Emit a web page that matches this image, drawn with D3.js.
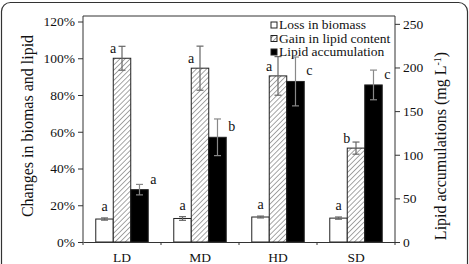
<!DOCTYPE html>
<head>
  <meta charset="utf-8">
  <script src="https://d3js.org/d3.v7.min.js"></script>
  <style>
    body { margin:0; background:#fff; }
    text { font-family: "Liberation Serif", "Times New Roman", serif; fill:#111; }
  </style>
</head>
<body>
<script>

/* Data */
/* ==== */

var categories = ['LD', 'MD', 'HD', 'SD'];

var lossBiomass = [12.5, 12.8, 13.6, 13.0];   // %
var lossErr     = [0.6, 1.0, 0.5, 0.6];
var lossLetters = ['a', 'a', 'a', 'a'];

var gainLipid   = [100, 94.6, 90.4, 51.1];    // %
var gainErr     = [6.5, 12, 10.5, 3.3];
var gainLetters = ['a', 'a', 'a', 'b'];

var lipidAcc    = [60, 120, 184, 180];        // mg/L
var lipidErr    = [6, 21, 28, 17];
var accLetters  = ['a', 'b', 'c', 'c'];

var leftTicks  = [0, 20, 40, 60, 80, 100, 120];
var rightTicks = [0, 50, 100, 150, 200, 250];
var legendLabels = ['Loss in biomass', 'Gain in lipid content', 'Lipid accumulation'];


/* Set up */
/* ====== */

var width = 469, height = 264;
var margin = { top: 16, right: 74, bottom: 22, left: 83 };

var svg = d3.select('body').append('svg')
    .attr('width', width)
    .attr('height', height);

// outer rounded frame of the figure
svg.append('rect')
    .attr('x', 1.5).attr('y', 2.5)
    .attr('width', 466).attr('height', 290)
    .attr('rx', 9)
    .attr('fill', 'none')
    .attr('stroke', '#333')
    .attr('stroke-width', 1.2);

var defs = svg.append('defs');
var hatch = defs.append('pattern')
    .attr('id', 'hatch')
    .attr('patternUnits', 'userSpaceOnUse')
    .attr('width', 3.6).attr('height', 3.6)
    .attr('patternTransform', 'rotate(45)');
hatch.append('rect').attr('width', 3.6).attr('height', 3.6).attr('fill', '#fff');
hatch.append('line')
    .attr('x1', 0).attr('y1', 0).attr('x2', 0).attr('y2', 3.6)
    .attr('stroke', '#777').attr('stroke-width', 1.3);

var x0 = d3.scaleBand()
    .domain(categories)
    .range([margin.left, width - margin.right]);

var x1 = d3.scaleBand()
    .domain([0, 1, 2])
    .range([0, x0.bandwidth()])
    .paddingOuter(0.73)
    .paddingInner(0);

var yL = d3.scaleLinear()
    .domain([0, 123])
    .range([height - margin.bottom, margin.top]);

var yR = d3.scaleLinear()
    .domain([0, 259])
    .range([height - margin.bottom, margin.top]);

var g = svg.append('g');


/* Bars */
/* ==== */

var series = [
  { vals: lossBiomass, err: lossErr, letters: lossLetters, y: yL, fill: '#fff', pos: 'top' },
  { vals: gainLipid,   err: gainErr, letters: gainLetters, y: yL, fill: 'url(#hatch)', pos: 'left' },
  { vals: lipidAcc,    err: lipidErr, letters: accLetters, y: yR, fill: '#000', pos: 'right' }
];

series.forEach(function(s, si) {
  var grp = g.append('g');

  grp.selectAll('rect')
      .data(categories)
      .enter().append('rect')
      .attr('x', function(d) { return x0(d) + x1(si); })
      .attr('y', function(d, i) { return s.y(s.vals[i]); })
      .attr('width', x1.bandwidth())
      .attr('height', function(d, i) { return s.y(0) - s.y(s.vals[i]); })
      .attr('fill', s.fill)
      .attr('stroke', '#222')
      .attr('stroke-width', 1);

  // error bars
  categories.forEach(function(c, i) {
    var cx = x0(c) + x1(si) + x1.bandwidth() / 2;
    var top = s.y(s.vals[i] + s.err[i]), bot = s.y(s.vals[i] - s.err[i]);
    var col = si === 2 ? '#888' : '#666';
    grp.append('line')
        .attr('x1', cx).attr('x2', cx).attr('y1', top).attr('y2', bot)
        .attr('stroke', col).attr('stroke-width', 1.2);
    [top, bot].forEach(function(yy) {
      grp.append('line')
          .attr('x1', cx - 3.5).attr('x2', cx + 3.5).attr('y1', yy).attr('y2', yy)
          .attr('stroke', col).attr('stroke-width', 1.2);
    });

    // significance letters
    var bx = x0(c) + x1(si), by = s.y(s.vals[i]);
    var t = grp.append('text').text(s.letters[i]).style('font-size', '14px');
    if (s.pos === 'top') {
      t.attr('x', cx).attr('y', s.y(s.vals[i] + s.err[i]) - 7).attr('text-anchor', 'middle');
    } else if (s.pos === 'left') {
      t.attr('x', bx + 3).attr('y', by - 5).attr('text-anchor', 'end');
    } else {
      t.attr('x', bx + x1.bandwidth() + 2).attr('y', by - 6).attr('text-anchor', 'start');
    }
  });
});


/* Axes */
/* ==== */

var axisL = svg.append('g')
    .attr('transform', 'translate(' + margin.left + ',0)')
    .call(d3.axisLeft(yL).tickValues(leftTicks).tickSize(5).tickPadding(3)
      .tickFormat(function(d) { return d + '%'; }));

var axisR = svg.append('g')
    .attr('transform', 'translate(' + (width - margin.right) + ',0)')
    .call(d3.axisRight(yR).tickValues(rightTicks).tickSize(5).tickPadding(3));

var axisB = svg.append('g')
    .attr('transform', 'translate(0,' + (height - margin.bottom) + ')')
    .call(d3.axisBottom(x0).tickSize(0).tickPadding(10));

// small ticks between groups
svg.selectAll('.gtick')
    .data(categories.concat(['end']))
    .enter().append('line')
    .attr('x1', function(d, i) { return i < 4 ? x0(d) : width - margin.right; })
    .attr('x2', function(d, i) { return i < 4 ? x0(d) : width - margin.right; })
    .attr('y1', height - margin.bottom)
    .attr('y2', height - margin.bottom + 3)
    .attr('stroke', '#333');

[axisL, axisR, axisB].forEach(function(a) {
  a.selectAll('path').attr('stroke', '#333').attr('stroke-width', 1);
  a.selectAll('line').attr('stroke', '#333');
  a.selectAll('text').style('font-size', '13.5px')
    .style('font-family', '"Liberation Serif", "Times New Roman", serif').attr('fill', '#111');
});
axisL.select('.domain').attr('d', 'M-0,' + yL(0) + 'V' + margin.top);
axisR.select('.domain').attr('d', 'M0,' + yR(0) + 'V' + margin.top);

// top frame line
svg.append('line')
    .attr('x1', margin.left).attr('x2', width - margin.right)
    .attr('y1', margin.top).attr('y2', margin.top)
    .attr('stroke', '#333');

// axis titles
svg.append('text')
    .attr('transform', 'translate(33,' + (margin.top + (height - margin.top - margin.bottom) / 2 - 3) + ') rotate(-90)')
    .attr('text-anchor', 'middle')
    .style('font-size', '16px')
    .text('Changes in biomas and lipid');

var rt = svg.append('text')
    .attr('transform', 'translate(446,' + 146 + ') rotate(-90)')
    .attr('text-anchor', 'middle')
    .style('font-size', '16px');
rt.append('tspan').text('Lipid accumulations (mg L');
rt.append('tspan').attr('dy', -5).style('font-size', '10px').text('-1');
rt.append('tspan').attr('dy', 5).text(')');


/* Legend */
/* ====== */

var legendFills = ['#fff', 'url(#hatch)', '#000'];
var lg = svg.append('g').attr('transform', 'translate(271,17)');
legendLabels.forEach(function(l, i) {
  lg.append('rect')
      .attr('x', 0).attr('y', 5 + i * 13.5)
      .attr('width', 6).attr('height', 6)
      .attr('fill', legendFills[i])
      .attr('stroke', '#222');
  lg.append('text')
      .attr('x', 8).attr('y', 12 + i * 13.5)
      .style('font-size', '13.5px')
      .text(l);
});

</script>
</body>
